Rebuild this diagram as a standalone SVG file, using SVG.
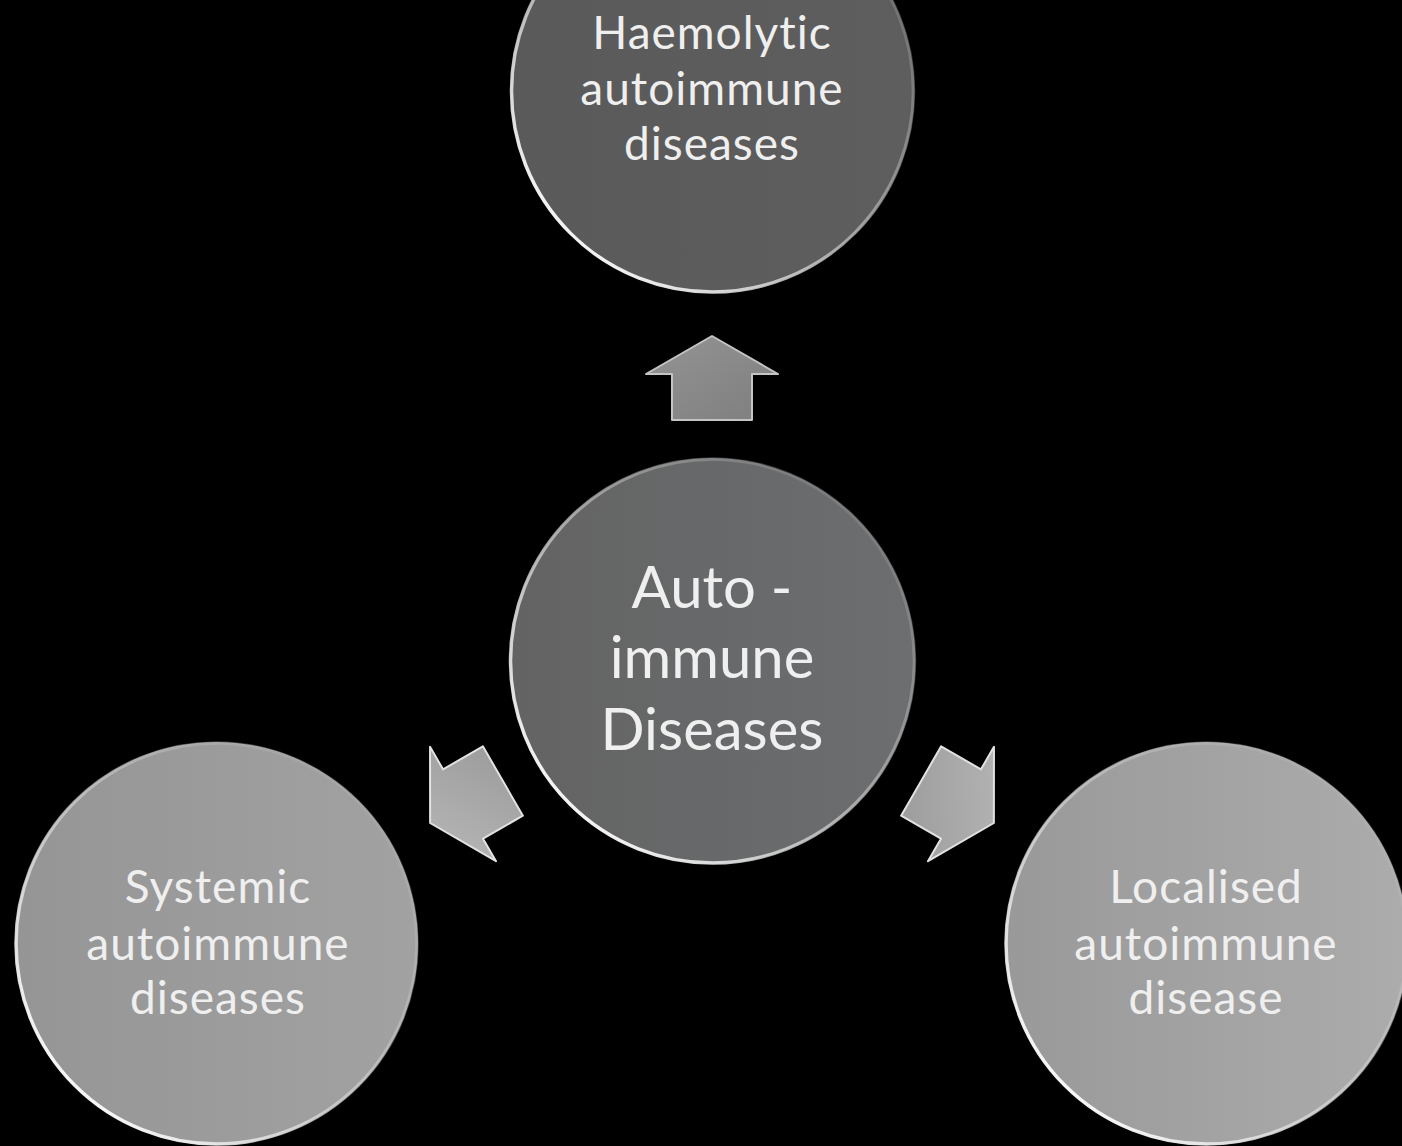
<svg xmlns="http://www.w3.org/2000/svg" width="1402" height="1146" viewBox="0 0 1402 1146">
  <style>
    .lbl { font-family: Lato, "Open Sans", "Liberation Sans", sans-serif; fill: #efefef; text-anchor: middle; font-variant-ligatures: none; font-feature-settings: "liga" 0, "clig" 0; }
    .small { font-size: 46px; letter-spacing: 1px; }
    .big { font-size: 58px; }
    .rim { fill: none; stroke-width: 3.5; }
  </style>
  <defs>
    <linearGradient id="gTop" x1="0" y1="0" x2="1" y2="0">
      <stop offset="0" stop-color="#5a5a5a"/>
      <stop offset="1" stop-color="#5e5e5e"/>
    </linearGradient>
    <linearGradient id="gMid" x1="0" y1="0" x2="1" y2="0">
      <stop offset="0" stop-color="#636363"/>
      <stop offset="1" stop-color="#6c6e70"/>
    </linearGradient>
    <linearGradient id="gLow" x1="0" y1="0" x2="1" y2="0">
      <stop offset="0" stop-color="#959595"/>
      <stop offset="1" stop-color="#a2a2a2"/>
    </linearGradient>
    <linearGradient id="gLowR" x1="0" y1="0" x2="1" y2="0">
      <stop offset="0" stop-color="#999999"/>
      <stop offset="1" stop-color="#acacac"/>
    </linearGradient>
    <linearGradient id="gRim" x1="0.1" y1="0.9" x2="0.9" y2="0.1">
      <stop offset="0" stop-color="#ffffff" stop-opacity="1"/>
      <stop offset="0.45" stop-color="#e0e0e0" stop-opacity="0.6"/>
      <stop offset="1" stop-color="#bbbbbb" stop-opacity="0.15"/>
    </linearGradient>
    <linearGradient id="gArrow" x1="0" y1="0" x2="1" y2="1">
      <stop offset="0" stop-color="#b8b8b8"/>
      <stop offset="1" stop-color="#9a9a9a"/>
    </linearGradient>
    <linearGradient id="gArrowUp" x1="0" y1="0" x2="1" y2="1">
      <stop offset="0" stop-color="#949494"/>
      <stop offset="1" stop-color="#7e7e7e"/>
    </linearGradient>
    <path id="arrow" d="M0,-42 L66,-4 L40,-4 L40,42 L-40,42 L-40,-4 L-66,-4 Z"/>
  </defs>
  <rect x="0" y="0" width="1402" height="1146" fill="#000"/>

  <g id="connectors">
    <use href="#arrow" transform="translate(712,378)" fill="url(#gArrowUp)" stroke="#c4c4c4" stroke-width="2" stroke-linejoin="round"/>
    <use href="#arrow" transform="translate(466.5,802) rotate(240)" fill="url(#gArrow)" stroke="#e2e2e2" stroke-width="2" stroke-linejoin="round"/>
    <use href="#arrow" transform="translate(957.5,802) rotate(120)" fill="url(#gArrow)" stroke="#e2e2e2" stroke-width="2" stroke-linejoin="round"/>
  </g>

  <g id="node-haemolytic">
    <circle cx="712.5" cy="91" r="202" fill="url(#gTop)"/>
    <circle cx="712.5" cy="91" r="201" class="rim" stroke="url(#gRim)"/>
    <text class="lbl small" x="712" y="49">Haemolytic</text>
    <text class="lbl small" x="712" y="105">autoimmune</text>
    <text class="lbl small" x="712" y="160">diseases</text>
  </g>

  <g id="node-center">
    <circle cx="712.5" cy="661" r="203" fill="url(#gMid)"/>
    <circle cx="712.5" cy="661" r="202" class="rim" stroke="url(#gRim)"/>
    <text class="lbl big" x="712" y="608">Auto -</text>
    <text class="lbl big" x="712" y="678">immune</text>
    <text class="lbl big" x="712" y="750">Diseases</text>
  </g>

  <g id="node-systemic">
    <circle cx="216.5" cy="943.5" r="201.5" fill="url(#gLow)"/>
    <circle cx="216.5" cy="943.5" r="200.5" class="rim" stroke="url(#gRim)"/>
    <text class="lbl small" x="218" y="903">Systemic</text>
    <text class="lbl small" x="218" y="960">autoimmune</text>
    <text class="lbl small" x="218" y="1014">diseases</text>
  </g>

  <g id="node-localised">
    <circle cx="1206.5" cy="943.5" r="201.5" fill="url(#gLowR)"/>
    <circle cx="1206.5" cy="943.5" r="200.5" class="rim" stroke="url(#gRim)"/>
    <text class="lbl small" x="1206" y="903">Localised</text>
    <text class="lbl small" x="1206" y="960">autoimmune</text>
    <text class="lbl small" x="1206" y="1014">disease</text>
  </g>
</svg>
